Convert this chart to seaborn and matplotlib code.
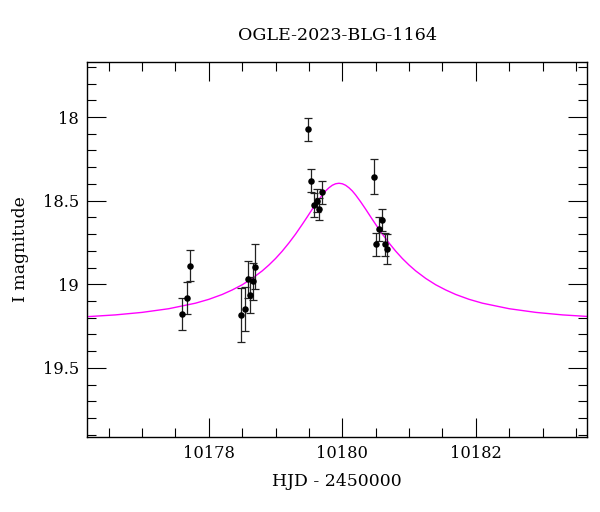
import numpy as np
import pandas as pd
import matplotlib
matplotlib.use("Agg")
import matplotlib.pyplot as plt
from matplotlib.ticker import MultipleLocator
import seaborn as sns

# ---- data ----
obs_hjd = [10177.605, 10177.675, 10177.716,
           10178.483, 10178.539, 10178.584, 10178.623, 10178.659, 10178.698,
           10179.487, 10179.527, 10179.580, 10179.620, 10179.650, 10179.690,
           10180.480, 10180.510, 10180.550, 10180.590, 10180.640, 10180.670]
obs_mag = [19.178, 19.080, 18.889,
           19.183, 19.147, 18.970, 19.064, 18.981, 18.894,
           18.074, 18.381, 18.526, 18.500, 18.550, 18.450,
           18.357, 18.761, 18.670, 18.616, 18.761, 18.787]
obs_err = [0.096, 0.095, 0.094,
           0.160, 0.130, 0.110, 0.110, 0.110, 0.135,
           0.068, 0.068, 0.070, 0.070, 0.067, 0.070,
           0.104, 0.070, 0.070, 0.064, 0.070, 0.090]

model_hjd = [10176.20, 10176.60, 10177.00, 10177.40, 10177.80, 10178.00, 10178.20,
             10178.35, 10178.50, 10178.65, 10178.80, 10178.90, 10179.00, 10179.10,
             10179.20, 10179.30, 10179.40, 10179.475, 10179.55, 10179.625, 10179.70,
             10179.75, 10179.80, 10179.85, 10179.90, 10179.95,
             10180.00, 10180.05, 10180.10, 10180.15, 10180.20, 10180.275, 10180.35,
             10180.425, 10180.50, 10180.60, 10180.70, 10180.80, 10180.90, 10181.00,
             10181.10, 10181.25, 10181.40, 10181.55, 10181.70, 10181.90, 10182.10,
             10182.50, 10182.90, 10183.30, 10183.70]
model_mag = [19.193, 19.183, 19.168, 19.146, 19.113, 19.090, 19.061,
             19.034, 19.003, 18.965, 18.920, 18.885, 18.846, 18.802,
             18.753, 18.700, 18.642, 18.597, 18.551, 18.507, 18.466,
             18.442, 18.423, 18.408, 18.399, 18.396,
             18.399, 18.408, 18.423, 18.442, 18.466, 18.507, 18.551,
             18.597, 18.642, 18.700, 18.753, 18.802, 18.846, 18.885,
             18.920, 18.965, 19.003, 19.034, 19.061, 19.090, 19.113,
             19.146, 19.168, 19.183, 19.193]

title = "OGLE-2023-BLG-1164"
xlabel = "HJD - 2450000"
ylabel = "I magnitude"

# ---- plotting ----
sns.set_style("ticks")
plt.rcParams['font.family'] = ['DejaVu Serif']
plt.rcParams['mathtext.fontset'] = 'dejavuserif'
plt.rcParams['text.color'] = 'black'
plt.rcParams['axes.labelcolor'] = 'black'
plt.rcParams['xtick.color'] = 'black'
plt.rcParams['ytick.color'] = 'black'

fig = plt.figure(figsize=(6.0, 5.12), dpi=100)
ax = fig.add_axes([0.1455, 0.1471, 0.8333, 0.7312])

obs = pd.DataFrame({"hjd": obs_hjd, "mag": obs_mag, "err": obs_err})
model = pd.DataFrame({"hjd": model_hjd, "mag": model_mag})

sns.lineplot(data=model, x="hjd", y="mag", ax=ax, color="#ff00ff", lw=1.0,
             sort=False, zorder=2)
ax.errorbar(obs["hjd"], obs["mag"], yerr=obs["err"], fmt="none",
            ecolor="#222222", elinewidth=0.9, capsize=2.6, capthick=0.9, zorder=3)
sns.scatterplot(data=obs, x="hjd", y="mag", ax=ax, color="black", s=22,
                edgecolor="black", linewidth=0, zorder=4)

ax.set_xlim(10176.18, 10183.67)
ax.set_ylim(19.911, 17.673)

ax.xaxis.set_major_locator(MultipleLocator(2))
ax.xaxis.set_minor_locator(MultipleLocator(0.5))
ax.yaxis.set_major_locator(MultipleLocator(0.5))
ax.yaxis.set_minor_locator(MultipleLocator(0.1))
ax.yaxis.set_major_formatter(plt.FuncFormatter(lambda v, p: f"{v:g}"))
ax.xaxis.set_major_formatter(plt.FuncFormatter(lambda v, p: f"{v:.0f}"))

ax.tick_params(which="both", direction="in", top=True, right=True,
               color="black", labelcolor="black", width=0.8, labelsize=11.7, pad=6)
ax.tick_params(which="major", length=13.5)
ax.tick_params(which="minor", length=6.5)
for s in ax.spines.values():
    s.set_color("black")
    s.set_linewidth(1.0)

ax.set_xlabel(xlabel, fontsize=12.4, labelpad=8, color="black")
ax.set_ylabel(ylabel, fontsize=12.4, labelpad=10, color="black")
ax.set_title(title, fontsize=12.6, pad=16, color="black")

fig.savefig("out.png", dpi=100)
